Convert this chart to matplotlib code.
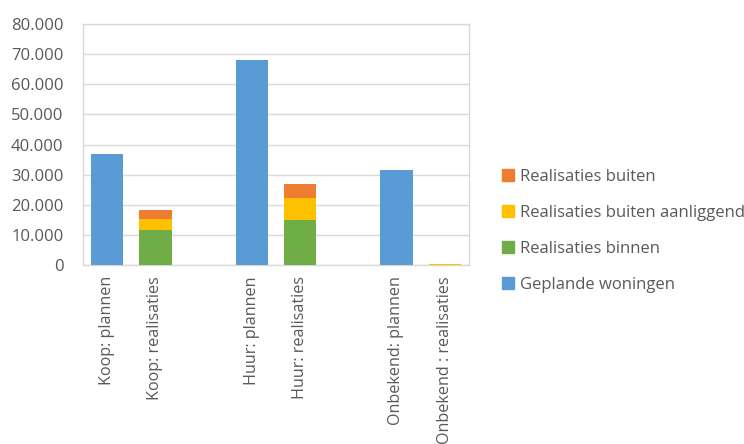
import numpy as np
import matplotlib.pyplot as plt
from matplotlib.patches import Patch
from matplotlib.ticker import FuncFormatter

# Categories (empty slots are the gaps between groups)
categories = ["Koop: plannen", "Koop: realisaties", "",
              "Huur: plannen", "Huur: realisaties", "",
              "Onbekend: plannen", "Onbekend : realisaties"]

gepland = [36800, 0, 0, 68000, 0, 0, 31700, 0]
binnen = [0, 11500, 0, 0, 14800, 0, 0, 0]
buiten_aanliggend = [0, 3700, 0, 0, 7500, 0, 0, 300]
buiten = [0, 3200, 0, 0, 4700, 0, 0, 200]

series = [
    ("Geplande woningen", gepland, "#5B9BD5"),
    ("Realisaties binnen", binnen, "#70AD47"),
    ("Realisaties buiten aanliggend", buiten_aanliggend, "#FFC000"),
    ("Realisaties buiten", buiten, "#ED7D31"),
]

plt.rcParams['font.family'] = ['Open Sans', 'DejaVu Sans']
text_col = '#595959'

fig = plt.figure(figsize=(7.44, 4.44), dpi=100)
ax = fig.add_axes([0.1116, 0.403, 0.5185, 0.543])

x = np.arange(len(categories))
bottom = np.zeros(len(categories))
for name, vals, col in series:
    vals = np.array(vals, dtype=float)
    ax.bar(x, vals, width=0.67, bottom=bottom, color=col, edgecolor='none', zorder=3)
    bottom += vals

ax.set_xlim(-0.5, len(categories) - 0.5)
ax.set_ylim(0, 80000)
ax.set_yticks(np.arange(0, 80001, 10000))
ax.yaxis.set_major_formatter(FuncFormatter(lambda v, p: f"{int(v):,}".replace(",", ".")))
ax.set_xticks(x)
ax.set_xticklabels(categories, rotation=90, va='top', ha='center')
ax.tick_params(axis='both', length=0, colors=text_col)
ax.tick_params(axis='x', pad=8, labelsize=11.6)
ax.tick_params(axis='y', pad=14, labelsize=12)
ax.grid(axis='y', color='#D9D9D9', linewidth=1, zorder=0)
for s in ax.spines.values():
    s.set_color('#D9D9D9')
    s.set_linewidth(1)

handles = [Patch(color=col, label=name) for name, vals, col in reversed(series)]
leg = fig.legend(handles=handles, loc='center left', bbox_to_anchor=(0.655, 0.48),
                 frameon=False, fontsize=12, handlelength=0.7, handleheight=0.7,
                 labelspacing=1.2, handletextpad=0.35)
for t in leg.get_texts():
    t.set_color(text_col)

fig.savefig('out.png', dpi=100)
